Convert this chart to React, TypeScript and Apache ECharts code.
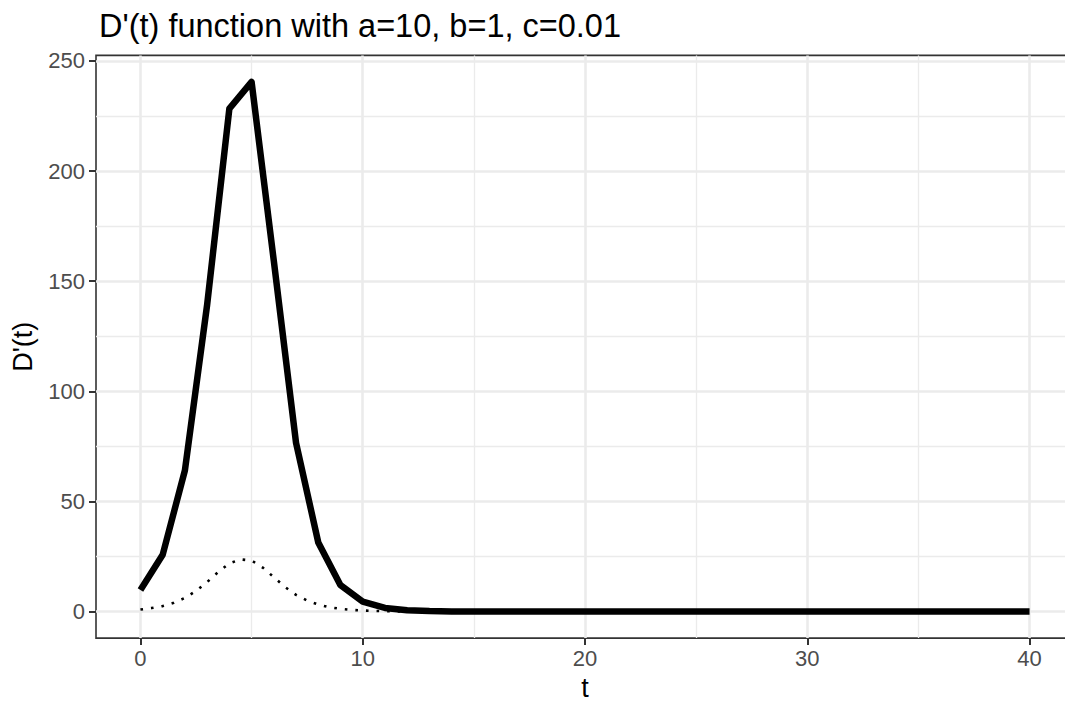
import React, { useEffect, useRef } from "react";
import * as echarts from "echarts";

// Solid line: D'(t) at integer t (a=10, b=1, c=0.01)
const tSolid = [0,1,2,3,4,5,6,7,8,9,10,11,12,13,14,15,16,17,18,19,20,21,22,23,24,25,26,27,28,29,30,31,32,33,34,35,36,37,38,39,40];
const vSolid = [9.8,25.8,64.1,139.3,228.4,240.5,159.2,76.6,31.4,12.0,4.5,1.66,0.61,0.23,0.083,0.031,0.011,0.004,0.0015,0.0006,0.0002,0,0,0,0,0,0,0,0,0,0,0,0,0,0,0,0,0,0,0,0];

// Dotted line: finer curve
const tDotted = [0,0.5,1,1.5,2,2.5,3,3.5,4,4.5,5,5.5,6,6.5,7,7.5,8,8.5,9,9.5,10,10.5,11,11.5,12,12.5,13];
const vDotted = [0.95,1.6,2.5,4.0,6.2,9.4,13.4,18.0,21.9,23.7,23.2,20.0,15.6,11.2,7.6,5.0,3.2,2.0,1.25,0.78,0.48,0.3,0.18,0.11,0.07,0.04,0.02];

const xMajor = [0, 10, 20, 30, 40];
const xMinor = [5, 15, 25, 35];
const yMajor = [0, 50, 100, 150, 200, 250];
const yMinor = [25, 75, 125, 175, 225];

const FONT = "Liberation Sans, Arial, sans-serif";

export default function App() {
  const ref = useRef<HTMLDivElement>(null);
  useEffect(() => {
    if (!ref.current) return;
    const chart = echarts.init(ref.current, null, { renderer: "svg" });
    const xMin = -2, xMax = 42;
    const yMin = -12.03, yMax = 252.53;
    chart.setOption({
      animation: false,
      backgroundColor: "#ffffff",
      title: {
        text: "D'(t) function with a=10, b=1, c=0.01",
        left: 94,
        top: 4,
        textStyle: { fontFamily: FONT, fontSize: 32.5, fontWeight: "normal", color: "#000000" },
      },
      grid: {
        left: 96,
        top: 55.4,
        right: 0,
        bottom: 62.3,
        show: true,
        backgroundColor: "transparent",
        borderColor: "#333333",
        borderWidth: 1.6,
        containLabel: false,
      },
      xAxis: [
        {
          type: "value",
          min: xMin,
          max: xMax,
          name: "t",
          nameLocation: "middle",
          nameGap: 32,
          nameTextStyle: { fontFamily: FONT, fontSize: 27, color: "#000000" },
          axisLine: { show: false, onZero: false },
          axisTick: { show: true, length: 7, customValues: xMajor, lineStyle: { color: "#333333", width: 2 } },
          axisLabel: { customValues: xMajor, margin: 9, fontFamily: FONT, fontSize: 22, color: "#4D4D4D" },
          splitLine: { show: true, lineStyle: { color: "#EBEBEB", width: 2.6 } },
        },
        {
          type: "value",
          min: xMin,
          max: xMax,
          position: "bottom",
          axisLine: { show: false, onZero: false },
          axisTick: { show: false, customValues: xMinor },
          axisLabel: { show: false, customValues: xMinor },
          splitLine: { show: true, lineStyle: { color: "#EBEBEB", width: 1.3 } },
        },
      ],
      yAxis: [
        {
          type: "value",
          min: yMin,
          max: yMax,
          name: "D'(t)",
          nameLocation: "middle",
          nameRotate: 90,
          nameGap: 60,
          nameTextStyle: { fontFamily: FONT, fontSize: 27, color: "#000000" },
          axisLine: { show: false, onZero: false },
          axisTick: { show: true, length: 7, customValues: yMajor, lineStyle: { color: "#333333", width: 2 } },
          axisLabel: { customValues: yMajor, margin: 11, fontFamily: FONT, fontSize: 22, color: "#4D4D4D" },
          splitLine: { show: true, lineStyle: { color: "#EBEBEB", width: 2.6 } },
        },
        {
          type: "value",
          min: yMin,
          max: yMax,
          position: "left",
          axisLine: { show: false, onZero: false },
          axisTick: { show: false, customValues: yMinor },
          axisLabel: { show: false, customValues: yMinor },
          splitLine: { show: true, lineStyle: { color: "#EBEBEB", width: 1.3 } },
        },
      ],
      series: [
        {
          type: "line",
          xAxisIndex: 0,
          yAxisIndex: 0,
          data: tDotted.map((t, i) => [t, vDotted[i]]),
          showSymbol: false,
          symbol: "none",
          lineStyle: { color: "#000000", width: 2.6, type: [2.6, 8], cap: "butt" },
          z: 2,
        },
        {
          type: "line",
          xAxisIndex: 0,
          yAxisIndex: 0,
          data: tSolid.map((t, i) => [t, vSolid[i]]),
          showSymbol: false,
          symbol: "none",
          lineStyle: { color: "#000000", width: 6.5, join: "round", cap: "butt" },
          z: 3,
        },
      ],
    });
    return () => chart.dispose();
  }, []);
  return (
    <div style={{ position: "fixed", left: 0, top: 0, width: 1065, height: 706, overflow: "hidden", background: "#fff" }}>
      <div ref={ref} style={{ width: 1074, height: 706 }} />
    </div>
  );
}
